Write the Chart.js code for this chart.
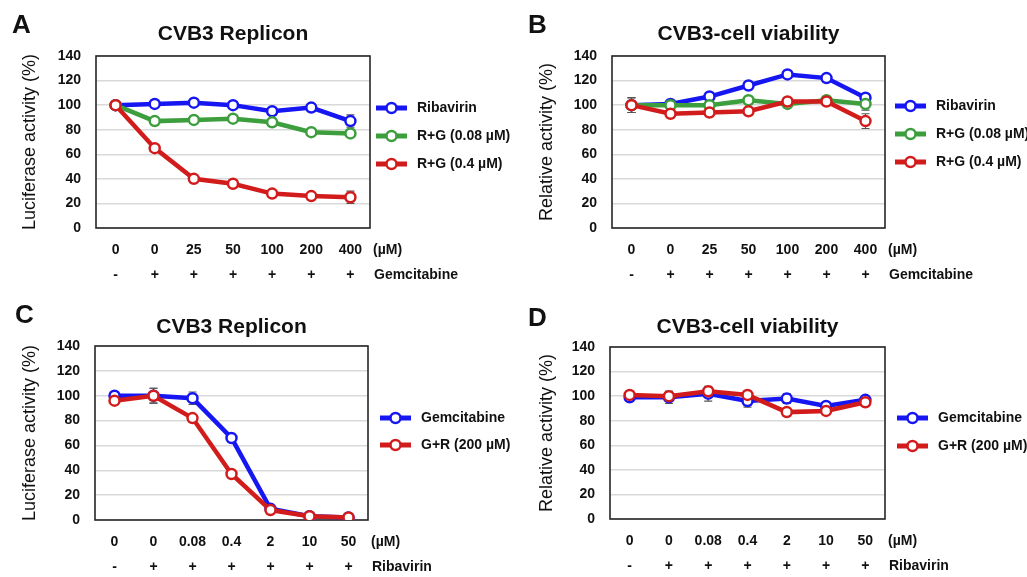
<!DOCTYPE html>
<html>
<head>
<meta charset="utf-8">
<script src="https://cdn.jsdelivr.net/npm/chart.js@4.4.1/dist/chart.umd.min.js"></script>
<style>
body{margin:0;background:#fff;width:1027px;height:577px;position:relative;overflow:hidden}
canvas{position:absolute}
</style>
</head>
<body>
<canvas id="chartA" width="517" height="290" style="left:0;top:0"></canvas>
<canvas id="chartB" width="517" height="290" style="left:510px;top:0"></canvas>
<canvas id="chartC" width="517" height="287" style="left:0;top:290px"></canvas>
<canvas id="chartD" width="517" height="287" style="left:510px;top:290px"></canvas>
<script>
// categories (two label rows under each x axis)
const doseRiba = ['0', '0', '25', '50', '100', '200', '400']
const doseGem = ['0', '0', '0.08', '0.4', '2', '10', '50']
const plusMinus = ['-', '+', '+', '+', '+', '+', '+']

// A - CVB3 replicon, ribavirin +/- gemcitabine
const aRibavirin = [100, 101, 102, 100, 95, 98, 87]
const aRG008 = [100, 87, 88, 89, 86, 78, 77]
const aRG04 = [100, 65, 40, 36, 28, 26, 25]
const aRibavirinErr = [0, 1, 1, 1, 3, 2, 5]
const aRG008Err = [0, 1, 1, 1, 1, 2, 2]
const aRG04Err = [0, 2, 1, 1, 2, 2, 5]

// B - cell viability
const bRibavirin = [100, 101, 107, 116, 125, 122, 106]
const bRG008 = [100, 100, 100, 104, 101, 104, 101]
const bRG04 = [100, 93, 94, 95, 103, 103, 87]
const bRibavirinErr = [6, 2, 2, 2, 2, 3, 3]
const bRG008Err = [6, 2, 2, 2, 2, 2, 5]
const bRG04Err = [6, 2, 2, 2, 2, 2, 6]

// C - CVB3 replicon, gemcitabine +/- ribavirin
const cGem = [100, 100, 98, 66, 9, 3, 2]
const cGR = [96, 100, 82, 37, 8, 3, 2]
const cGemErr = [0, 6, 5, 2, 1, 1, 1]
const cGRErr = [2, 6, 2, 2, 1, 1, 1]

// D - cell viability
const dGem = [99, 99, 102, 96, 98, 92, 97]
const dGR = [101, 100, 104, 101, 87, 88, 95]
const dGemErr = [1, 5, 6, 5, 4, 2, 2]
const dGRErr = [1, 4, 2, 3, 3, 2, 2]

const BLUE = '#1616f2'
const GREEN = '#3c9e3c'
const RED = '#d21c1c'
const FONT = '"Liberation Sans", Arial, sans-serif'

// box, error bars, title, legend, unit labels
const decor = {
    id: 'decor',
    beforeDatasetsDraw(chart, args, o){
        let ctx = chart.ctx, ca = chart.chartArea
        let xs = chart.scales.x, ys = chart.scales.y
        ctx.save()
        ctx.strokeStyle = '#262626'
        ctx.lineWidth = 1.6
        ctx.strokeRect(ca.left, ca.top, ca.right - ca.left, ca.bottom - ca.top)
        ctx.strokeStyle = '#555'
        ctx.lineWidth = 1.2
        chart.data.datasets.forEach(function(ds){
            ds.errors.forEach(function(e, i){
                if(!e) return
                let px = xs.getPixelForValue(i)
                let t = ys.getPixelForValue(ds.data[i] + e)
                let b = ys.getPixelForValue(ds.data[i] - e)
                ctx.beginPath()
                ctx.moveTo(px, t); ctx.lineTo(px, b)
                ctx.moveTo(px - 4, t); ctx.lineTo(px + 4, t)
                ctx.moveTo(px - 4, b); ctx.lineTo(px + 4, b)
                ctx.stroke()
            })
        })
        ctx.restore()
    },
    afterDraw(chart, args, o){
        let ctx = chart.ctx, ca = chart.chartArea, xs = chart.scales.x
        ctx.save()
        ctx.fillStyle = '#111'
        // panel title
        ctx.font = 'bold 21px ' + FONT
        ctx.textAlign = 'center'
        ctx.textBaseline = 'middle'
        ctx.fillText(o.title, (ca.left + ca.right) / 2, o.titleY)
        // panel letter
        ctx.font = 'bold 26px ' + FONT
        ctx.textAlign = 'left'
        ctx.textBaseline = 'alphabetic'
        ctx.fillText(o.letter, o.letterX, o.letterY)
        // units next to the tick rows
        ctx.font = 'bold 14px ' + FONT
        ctx.textBaseline = 'middle'
        let row1 = xs.top + 9.5 + 12.5
        ctx.fillText('(\u00b5M)', ca.right + 3, row1)
        ctx.fillText(o.drug, ca.right + 4, row1 + 25)
        // legend
        chart.data.datasets.forEach(function(ds, i){
            let y = o.legendY[i]
            ctx.strokeStyle = ds.borderColor
            ctx.lineWidth = 5
            ctx.beginPath()
            ctx.moveTo(o.legendX, y)
            ctx.lineTo(o.legendX + 31, y)
            ctx.stroke()
            ctx.beginPath()
            ctx.arc(o.legendX + 15.5, y, 5, 0, Math.PI * 2)
            ctx.fillStyle = '#fff'
            ctx.fill()
            ctx.lineWidth = 2.5
            ctx.stroke()
            ctx.fillStyle = '#111'
            ctx.fillText(ds.label, o.legendX + 41, y)
        })
        ctx.restore()
    }
}

function series(label, data, errors, color, order){
    return {
        label: label,
        data: data,
        errors: errors,
        borderColor: color,
        borderWidth: 4.5,
        pointRadius: 5,
        pointBorderWidth: 2.5,
        pointBackgroundColor: '#fff',
        pointBorderColor: color,
        tension: 0,
        order: order
    }
}

function makePanel(id, doses, datasets, yTitle, p){
    let canvas = document.getElementById(id)
    return new Chart(canvas.getContext('2d'), {
        type: 'line',
        data: {
            labels: doses.map(function(d, i){ return [d, plusMinus[i]] }),
            datasets: datasets
        },
        plugins: [decor],
        options: {
            responsive: false,
            animation: false,
            devicePixelRatio: 1,
            layout: { padding: { left: 0, top: p.top, right: canvas.width - p.right, bottom: 0 } },
            plugins: {
                legend: { display: false },
                tooltip: { enabled: false },
                decor: p
            },
            scales: {
                x: {
                    offset: true,
                    grid: { display: false, drawTicks: false },
                    border: { display: false },
                    ticks: {
                        autoSkip: false, maxRotation: 0, padding: 9.5, color: '#111',
                        font: { family: FONT, size: 14, weight: 'bold', lineHeight: 25 / 14 }
                    },
                    afterFit: function(s){ s.height = canvas.height - p.bottom }
                },
                y: {
                    min: 0, max: 140,
                    grid: { color: '#d9d9d9', lineWidth: 1.5, drawTicks: false },
                    border: { display: false },
                    ticks: {
                        stepSize: 20, padding: 15, color: '#111',
                        font: { family: FONT, size: 14, weight: 'bold' }
                    },
                    title: {
                        display: true, text: yTitle, color: '#111',
                        font: { family: FONT, size: 18 }, padding: { top: p.titlePad, bottom: 0 }
                    },
                    afterFit: function(s){ s.width = p.left }
                }
            }
        }
    })
}

makePanel('chartA', doseRiba, [
    series('Ribavirin', aRibavirin, aRibavirinErr, BLUE, 2),
    series('R+G (0.08 \u00b5M)', aRG008, aRG008Err, GREEN, 1),
    series('R+G (0.4 \u00b5M)', aRG04, aRG04Err, RED, 0)
], 'Luciferase activity (%)', {
    left: 96, right: 370, top: 56, bottom: 228, titlePad: 19,
    title: 'CVB3 Replicon', titleY: 34, letter: 'A', letterX: 12, letterY: 33,
    drug: 'Gemcitabine', legendX: 376, legendY: [108, 136, 164]
})

makePanel('chartB', doseRiba, [
    series('Ribavirin', bRibavirin, bRibavirinErr, BLUE, 2),
    series('R+G (0.08 \u00b5M)', bRG008, bRG008Err, GREEN, 1),
    series('R+G (0.4 \u00b5M)', bRG04, bRG04Err, RED, 0)
], 'Relative activity (%)', {
    left: 102, right: 375, top: 56, bottom: 228, titlePad: 26,
    title: 'CVB3-cell viability', titleY: 34, letter: 'B', letterX: 18, letterY: 33,
    drug: 'Gemcitabine', legendX: 385, legendY: [106, 134, 162]
})

makePanel('chartC', doseGem, [
    series('Gemcitabine', cGem, cGemErr, BLUE, 1),
    series('G+R (200 \u00b5M)', cGR, cGRErr, RED, 0)
], 'Luciferase activity (%)', {
    left: 95, right: 368, top: 56, bottom: 230, titlePad: 19,
    title: 'CVB3 Replicon', titleY: 37, letter: 'C', letterX: 15, letterY: 33,
    drug: 'Ribavirin', legendX: 380, legendY: [128, 155]
})

makePanel('chartD', doseGem, [
    series('Gemcitabine', dGem, dGemErr, BLUE, 1),
    series('G+R (200 \u00b5M)', dGR, dGRErr, RED, 0)
], 'Relative activity (%)', {
    left: 100, right: 375, top: 57, bottom: 229, titlePad: 26,
    title: 'CVB3-cell viability', titleY: 37.5, letter: 'D', letterX: 18, letterY: 36,
    drug: 'Ribavirin', legendX: 387, legendY: [128, 156]
})
</script>
</body>
</html>
